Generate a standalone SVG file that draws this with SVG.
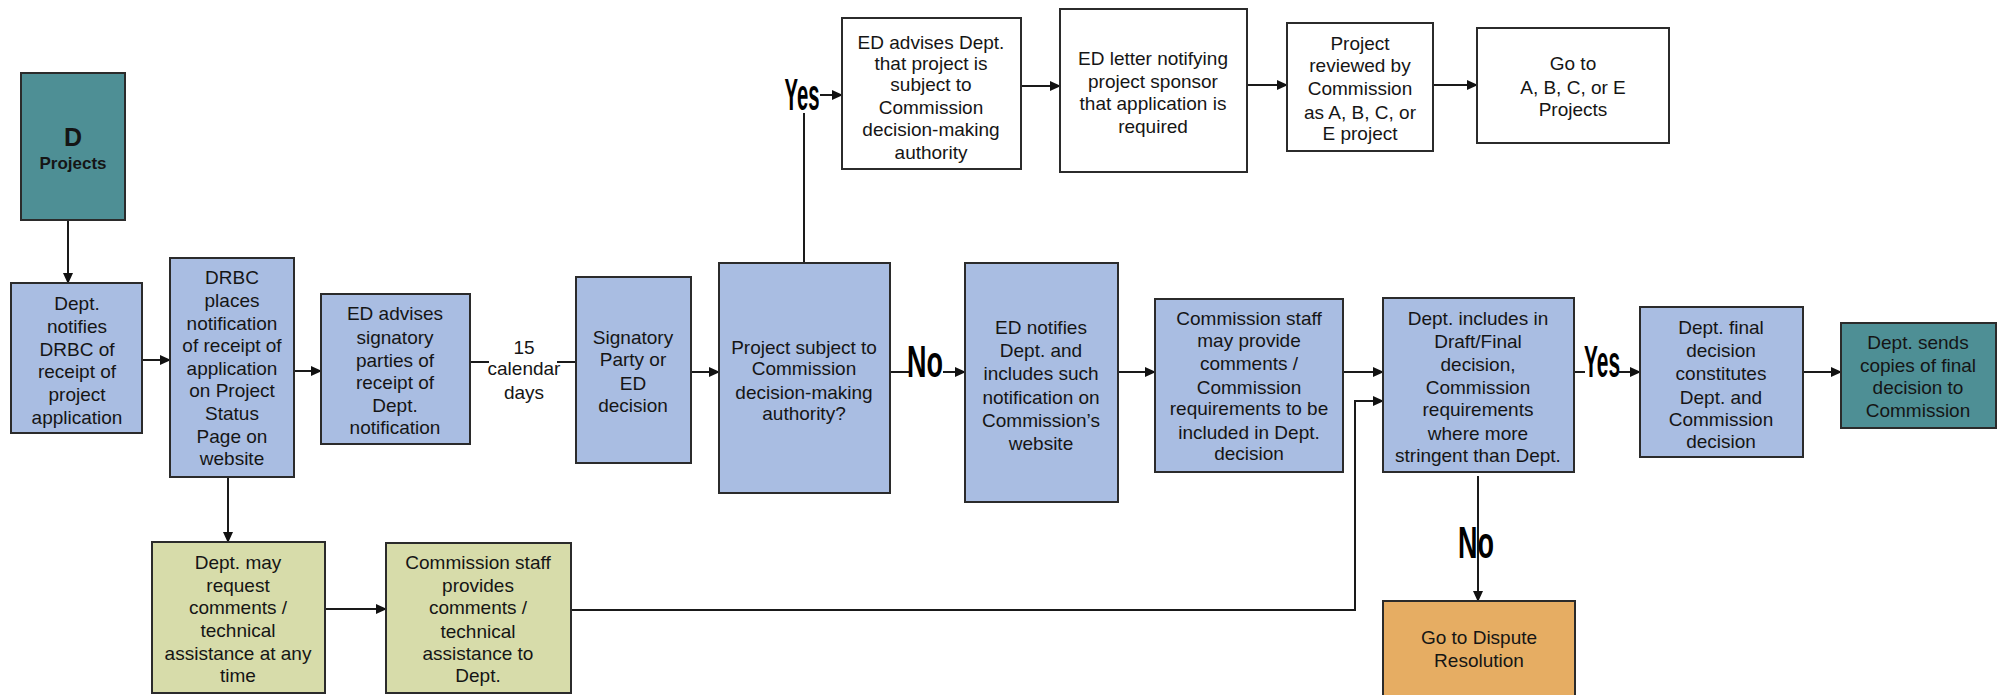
<svg xmlns="http://www.w3.org/2000/svg" width="2004" height="695" viewBox="0 0 2004 695">
<defs>
<marker id="ah" markerWidth="11" markerHeight="10" refX="10" refY="5" orient="auto" markerUnits="userSpaceOnUse">
<path d="M0,0 L11,5 L0,10 z" fill="#111"/>
</marker>
<style>
.b{fill:#a9bde2;stroke:#2b2b2b;stroke-width:2}
.t{fill:#4e8f95;stroke:#2b2b2b;stroke-width:2}
.w{fill:#ffffff;stroke:#2b2b2b;stroke-width:2}
.o{fill:#d7dcaa;stroke:#2b2b2b;stroke-width:2}
.r{fill:#e6ad63;stroke:#2b2b2b;stroke-width:2}
text{font-family:"Liberation Sans",Arial,sans-serif;font-size:19px;fill:#151515;text-anchor:middle}
.yn{font-size:44px;font-weight:bold;fill:#000}
.c line,.c path{stroke:#1a1a1a;stroke-width:2;fill:none}
.a{marker-end:url(#ah)}
</style>
</defs>
<rect width="2004" height="695" fill="#ffffff"/>

<g class="c" id="connectors">
<line class="a" x1="68" y1="220" x2="68" y2="283"/>
<line class="a" x1="142" y1="360" x2="170" y2="360"/>
<line class="a" x1="294" y1="371" x2="321" y2="371"/>
<line x1="470" y1="362" x2="489" y2="362"/>
<line x1="557" y1="362" x2="576" y2="362"/>
<line class="a" x1="691" y1="372" x2="719" y2="372"/>
<line x1="804" y1="263" x2="804" y2="113"/>
<line class="a" x1="820" y1="95" x2="842" y2="95"/>
<line class="a" x1="1021" y1="86" x2="1060" y2="86"/>
<line class="a" x1="1247" y1="85" x2="1287" y2="85"/>
<line class="a" x1="1433" y1="85" x2="1477" y2="85"/>
<line x1="890" y1="372" x2="909" y2="372"/>
<line class="a" x1="943" y1="372" x2="965" y2="372"/>
<line class="a" x1="1118" y1="372" x2="1155" y2="372"/>
<line class="a" x1="1343" y1="372" x2="1383" y2="372"/>
<path class="a" d="M571,610 L1355,610 L1355,401 L1383,401"/>
<line class="a" x1="228" y1="477" x2="228" y2="542"/>
<line class="a" x1="325" y1="609" x2="386" y2="609"/>
<line x1="1574" y1="372" x2="1585" y2="372"/>
<line class="a" x1="1619" y1="372" x2="1640" y2="372"/>
<line class="a" x1="1803" y1="372" x2="1841" y2="372"/>
<line class="a" x1="1478" y1="476" x2="1478" y2="601"/>
</g>

<g id="labels">
<text x="524" y="354">15</text>
<text x="524" y="375">calendar</text>
<text x="524" y="399">days</text>
<text class="yn" x="802" y="110" textLength="35" lengthAdjust="spacingAndGlyphs">Yes</text>
<text class="yn" x="925" y="377" textLength="36" lengthAdjust="spacingAndGlyphs">No</text>
<text class="yn" x="1602" y="377" textLength="36" lengthAdjust="spacingAndGlyphs">Yes</text>
<text class="yn" x="1476" y="558" textLength="36" lengthAdjust="spacingAndGlyphs">No</text>
</g>

<g id="d-projects">
<rect class="t" x="21" y="73" width="104" height="147"/>
<text x="73" y="146" style="font-weight:bold;font-size:25px">D</text>
<text x="73" y="169" style="font-weight:bold;font-size:17px">Projects</text>
</g>

<g id="dept-notifies">
<rect class="b" x="11" y="283" width="131" height="150"/>
<text x="77" y="310">Dept.</text>
<text x="77" y="333">notifies</text>
<text x="77" y="356">DRBC of</text>
<text x="77" y="378">receipt of</text>
<text x="77" y="401">project</text>
<text x="77" y="424">application</text>
</g>

<g id="drbc-places">
<rect class="b" x="170" y="258" width="124" height="219"/>
<text x="232" y="284">DRBC</text>
<text x="232" y="307">places</text>
<text x="232" y="330">notification</text>
<text x="232" y="352">of receipt of</text>
<text x="232" y="375">application</text>
<text x="232" y="397">on Project</text>
<text x="232" y="420">Status</text>
<text x="232" y="443">Page on</text>
<text x="232" y="465">website</text>
</g>

<g id="ed-advises-signatory">
<rect class="b" x="321" y="294" width="149" height="150"/>
<text x="395" y="320">ED advises</text>
<text x="395" y="344">signatory</text>
<text x="395" y="367">parties of</text>
<text x="395" y="389">receipt of</text>
<text x="395" y="412">Dept.</text>
<text x="395" y="434">notification</text>
</g>

<g id="signatory-decision">
<rect class="b" x="576" y="277" width="115" height="186"/>
<text x="633" y="344">Signatory</text>
<text x="633" y="366">Party or</text>
<text x="633" y="390">ED</text>
<text x="633" y="412">decision</text>
</g>

<g id="project-subject">
<rect class="b" x="719" y="263" width="171" height="230"/>
<text x="804" y="354">Project subject to</text>
<text x="804" y="375">Commission</text>
<text x="804" y="399">decision-making</text>
<text x="804" y="420">authority?</text>
</g>

<g id="ed-advises-dept">
<rect class="w" x="842" y="18" width="179" height="151"/>
<text x="931" y="49">ED advises Dept.</text>
<text x="931" y="70">that project is</text>
<text x="931" y="91">subject to</text>
<text x="931" y="114">Commission</text>
<text x="931" y="136">decision-making</text>
<text x="931" y="159">authority</text>
</g>

<g id="ed-letter">
<rect class="w" x="1060" y="9" width="187" height="163"/>
<text x="1153" y="65">ED letter notifying</text>
<text x="1153" y="88">project sponsor</text>
<text x="1153" y="110">that application is</text>
<text x="1153" y="133">required</text>
</g>

<g id="project-reviewed">
<rect class="w" x="1287" y="23" width="146" height="128"/>
<text x="1360" y="50">Project</text>
<text x="1360" y="72">reviewed by</text>
<text x="1360" y="95">Commission</text>
<text x="1360" y="119">as A, B, C, or</text>
<text x="1360" y="140">E project</text>
</g>

<g id="go-to-abce">
<rect class="w" x="1477" y="28" width="192" height="115"/>
<text x="1573" y="70">Go to</text>
<text x="1573" y="94">A, B, C, or E</text>
<text x="1573" y="116">Projects</text>
</g>

<g id="ed-notifies">
<rect class="b" x="965" y="263" width="153" height="239"/>
<text x="1041" y="334">ED notifies</text>
<text x="1041" y="357">Dept. and</text>
<text x="1041" y="380">includes such</text>
<text x="1041" y="404">notification on</text>
<text x="1041" y="427">Commission’s</text>
<text x="1041" y="450">website</text>
</g>

<g id="commission-staff-may">
<rect class="b" x="1155" y="299" width="188" height="173"/>
<text x="1249" y="325">Commission staff</text>
<text x="1249" y="347">may provide</text>
<text x="1249" y="370">comments /</text>
<text x="1249" y="394">Commission</text>
<text x="1249" y="415">requirements to be</text>
<text x="1249" y="439">included in Dept.</text>
<text x="1249" y="460">decision</text>
</g>

<g id="dept-includes">
<rect class="b" x="1383" y="298" width="191" height="174"/>
<text x="1478" y="325">Dept. includes in</text>
<text x="1478" y="348">Draft/Final</text>
<text x="1478" y="371">decision,</text>
<text x="1478" y="394">Commission</text>
<text x="1478" y="416">requirements</text>
<text x="1478" y="440">where more</text>
<text x="1478" y="462">stringent than Dept.</text>
</g>

<g id="dept-final">
<rect class="b" x="1640" y="307" width="163" height="150"/>
<text x="1721" y="334">Dept. final</text>
<text x="1721" y="357">decision</text>
<text x="1721" y="380">constitutes</text>
<text x="1721" y="404">Dept. and</text>
<text x="1721" y="426">Commission</text>
<text x="1721" y="448">decision</text>
</g>

<g id="dept-sends">
<rect class="t" x="1841" y="323" width="155" height="105"/>
<text x="1918" y="349">Dept. sends</text>
<text x="1918" y="372">copies of final</text>
<text x="1918" y="394">decision to</text>
<text x="1918" y="417">Commission</text>
</g>

<g id="dept-may-request">
<rect class="o" x="152" y="542" width="173" height="151"/>
<text x="238" y="569">Dept. may</text>
<text x="238" y="592">request</text>
<text x="238" y="614">comments /</text>
<text x="238" y="637">technical</text>
<text x="238" y="660">assistance at any</text>
<text x="238" y="682">time</text>
</g>

<g id="commission-staff-provides">
<rect class="o" x="386" y="543" width="185" height="150"/>
<text x="478" y="569">Commission staff</text>
<text x="478" y="592">provides</text>
<text x="478" y="614">comments /</text>
<text x="478" y="638">technical</text>
<text x="478" y="660">assistance to</text>
<text x="478" y="682">Dept.</text>
</g>

<g id="dispute-resolution">
<rect class="r" x="1383" y="601" width="192" height="96"/>
<text x="1479" y="644">Go to Dispute</text>
<text x="1479" y="667">Resolution</text>
</g>
</svg>
